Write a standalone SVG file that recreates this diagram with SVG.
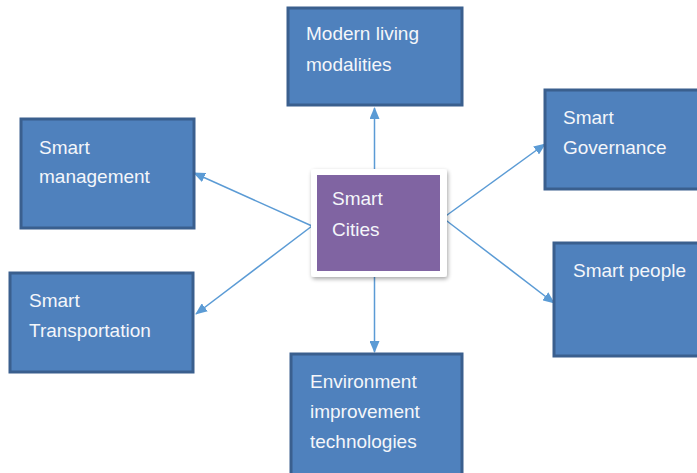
<svg xmlns="http://www.w3.org/2000/svg" width="697" height="473" viewBox="0 0 697 473">
  <style>
    .box { fill: #4F81BD; stroke: #3A5F8E; stroke-width: 3; }
    .lbl { font-family: "Liberation Sans", Arial, sans-serif; font-size: 19px; fill: #F4F6FA; }
    .link { stroke: #5B9BD5; stroke-width: 1.5; fill: none; marker-end: url(#tip); }
  </style>
  <defs>
    <marker id="tip" viewBox="0 0 12 10" refX="11" refY="5" markerWidth="12" markerHeight="10" markerUnits="userSpaceOnUse" orient="auto">
      <path d="M0,0 L12,5 L0,10 Z" fill="#5B9BD5"/>
    </marker>
    <filter id="shadow" x="-10%" y="-10%" width="125%" height="125%">
      <feGaussianBlur in="SourceAlpha" stdDeviation="2"/>
      <feOffset dx="1" dy="2"/>
      <feComponentTransfer><feFuncA type="linear" slope="0.35"/></feComponentTransfer>
      <feMerge><feMergeNode/><feMergeNode in="SourceGraphic"/></feMerge>
    </filter>
  </defs>

  <rect width="697" height="473" fill="#FFFFFF"/>

  <!-- connectors from the hub -->
  <g id="connectors">
    <line class="link" x1="374.5" y1="173" x2="374.5" y2="108"/>
    <line class="link" x1="374.5" y1="273" x2="374.5" y2="352"/>
    <line class="link" x1="312" y1="226" x2="194" y2="173"/>
    <line class="link" x1="312" y1="226" x2="196" y2="314"/>
    <line class="link" x1="443" y1="218" x2="545" y2="144"/>
    <line class="link" x1="443" y1="218" x2="554" y2="303"/>
  </g>

  <g id="smart-cities">
    <rect x="311" y="169" width="136" height="108" rx="3" fill="#FFFFFF" filter="url(#shadow)"/>
    <rect x="317" y="175" width="123" height="96" fill="#8064A2"/>
    <text class="lbl" x="332" y="205">Smart</text>
    <text class="lbl" x="332" y="236">Cities</text>
  </g>

  <g id="modern-living">
    <rect class="box" x="288" y="8" width="174" height="97"/>
    <text class="lbl" x="306" y="40">Modern living</text>
    <text class="lbl" x="306" y="71">modalities</text>
  </g>

  <g id="smart-management">
    <rect class="box" x="21" y="119" width="173" height="109"/>
    <text class="lbl" x="39" y="154">Smart</text>
    <text class="lbl" x="39" y="183">management</text>
  </g>

  <g id="smart-transportation">
    <rect class="box" x="10" y="273" width="183" height="99"/>
    <text class="lbl" x="29" y="307">Smart</text>
    <text class="lbl" x="29" y="337">Transportation</text>
  </g>

  <g id="smart-governance">
    <rect class="box" x="545" y="90" width="160" height="99"/>
    <text class="lbl" x="563" y="124">Smart</text>
    <text class="lbl" x="563" y="154">Governance</text>
  </g>

  <g id="smart-people">
    <rect class="box" x="554" y="243" width="150" height="113"/>
    <text class="lbl" x="573" y="277">Smart people</text>
  </g>

  <g id="environment">
    <rect class="box" x="291" y="354" width="171" height="125"/>
    <text class="lbl" x="310" y="388">Environment</text>
    <text class="lbl" x="310" y="418">improvement</text>
    <text class="lbl" x="310" y="448">technologies</text>
  </g>
</svg>
